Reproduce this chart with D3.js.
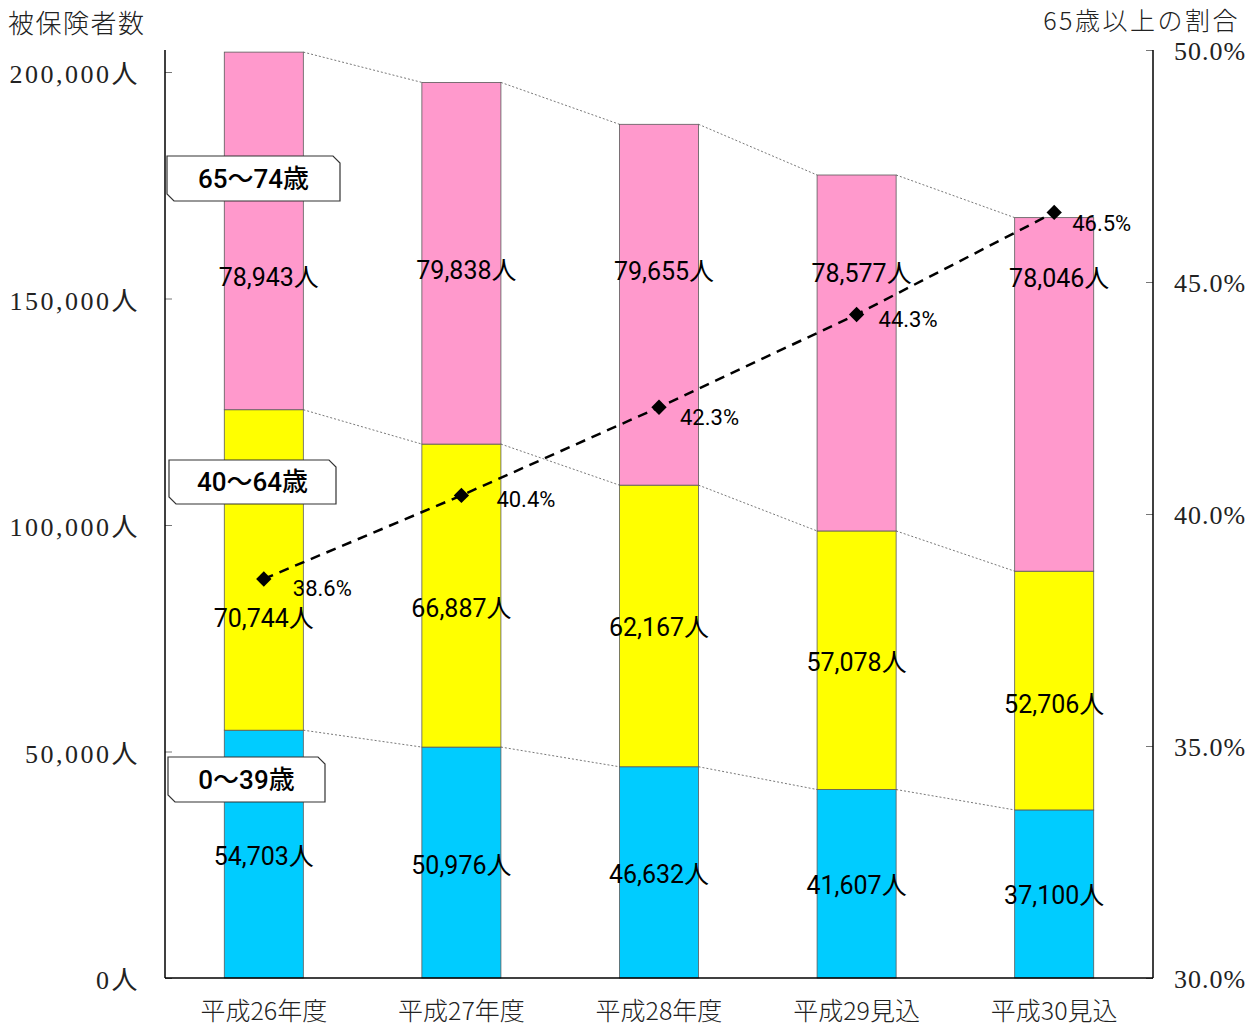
<!DOCTYPE html>
<html><head><meta charset="utf-8">
<script src="https://cdn.jsdelivr.net/npm/d3@7"></script>
<style>
body{margin:0;background:#fff;}
svg{display:block;}
</style></head>
<body>
<svg id="c" width="1257" height="1027"></svg>
<script>
// ---- data ----
const categories = ["平成26年度","平成27年度","平成28年度","平成29見込","平成30見込"];
const age0to39   = [54703, 50976, 46632, 41607, 37100];
const age40to64  = [70744, 66887, 62167, 57078, 52706];
const age65to74  = [78943, 79838, 79655, 78577, 78046];
const share65    = [38.6, 40.4, 42.3, 44.3, 46.5];
const seriesNames = ["0～39歳","40～64歳","65～74歳"];
const leftTicks  = [0, 50000, 100000, 150000, 200000];
const rightTicks = [30, 35, 40, 45, 50];
const leftTitle = "被保険者数";
const rightTitle = "65歳以上の割合";

// ---- layout ----
const L = 165, R = 1153, T = 50, B = 978;
const colors = ["#00CCFF","#FFFF00","#FF99CC"];
const svg = d3.select("#c");
const x = d3.scaleBand().domain(categories).range([L, R]).paddingInner(0.6).paddingOuter(0.3);
const y = d3.scaleLinear().domain([0, 200000]).range([B, 72]);
const y2 = d3.scaleLinear().domain([30, 50]).range([B, T]);
const serif = "'Liberation Serif','Noto Sans CJK JP',serif";
const sans = "Roboto,'Noto Sans CJK JP',sans-serif";

const rows = categories.map((c,i)=>({cat:c, a:age0to39[i], b:age40to64[i], c:age65to74[i]}));
const stack = d3.stack().keys(["a","b","c"])(rows);

// bars
stack.forEach((s,k)=>{
  svg.append("g").selectAll("rect").data(s).join("rect")
    .attr("x", (d,i)=>x(categories[i]))
    .attr("width", x.bandwidth())
    .attr("y", d=>y(d[1]))
    .attr("height", d=>y(d[0])-y(d[1]))
    .attr("fill", colors[k])
    .attr("stroke", "#5a5a5a").attr("stroke-width", 0.8);
});

// series connector lines
stack.forEach(s=>{
  for(let i=0;i<s.length-1;i++){
    svg.append("line")
      .attr("x1", x(categories[i])+x.bandwidth()).attr("y1", y(s[i][1]))
      .attr("x2", x(categories[i+1])).attr("y2", y(s[i+1][1]))
      .attr("stroke","#555").attr("stroke-width",0.8).attr("stroke-dasharray","2,2");
  }
});

// axes
const axL = svg.append("g").attr("transform",`translate(${L},0)`)
  .call(d3.axisLeft(y).tickValues(leftTicks).tickSize(-7).tickFormat(""));
axL.select(".domain").remove();
axL.selectAll(".tick line").attr("stroke","#777");
const axR = svg.append("g").attr("transform",`translate(${R},0)`)
  .call(d3.axisRight(y2).tickValues(rightTicks).tickSize(-7).tickFormat(""));
axR.select(".domain").remove();
axR.selectAll(".tick line").attr("stroke","#777");
svg.append("line").attr("x1",L).attr("x2",L).attr("y1",T).attr("y2",B).attr("stroke","#000").attr("stroke-width",1.5);
svg.append("line").attr("x1",R).attr("x2",R).attr("y1",T).attr("y2",B).attr("stroke","#000").attr("stroke-width",1.5);
svg.append("line").attr("x1",L).attr("x2",R).attr("y1",B).attr("y2",B).attr("stroke","#000").attr("stroke-width",1.5);

const fmtL = d3.format(",");
svg.append("g").selectAll("text").data(leftTicks).join("text")
  .attr("x", 140).attr("y", d=>y(d)+2).attr("dy","0.36em")
  .attr("text-anchor","end").attr("font-family",serif).attr("font-size",26)
  .attr("letter-spacing",2.5).attr("fill","#222")
  .text(d=>fmtL(d)+"人");
svg.append("g").selectAll("text").data(rightTicks).join("text")
  .attr("x", 1174).attr("y", d=>y2(d)+1).attr("dy","0.36em")
  .attr("text-anchor","start").attr("font-family",serif).attr("font-size",26)
  .attr("letter-spacing",1).attr("fill","#222")
  .text(d=>d.toFixed(1)+"%");
svg.append("g").selectAll("text").data(categories).join("text")
  .attr("x", d=>x(d)+x.bandwidth()/2).attr("y", 1011).attr("dy","0.36em")
  .attr("text-anchor","middle").attr("font-family","'Noto Sans CJK JP',sans-serif").attr("font-size",25)
  .attr("font-weight",300).attr("fill","#222")
  .text(d=>d);
svg.append("text").attr("x",8).attr("y",24).attr("dy","0.36em")
  .attr("font-family","'Noto Sans CJK JP',sans-serif").attr("font-size",26).attr("letter-spacing",1.5)
  .attr("font-weight",300).attr("fill","#222").text(leftTitle);
svg.append("text").attr("x",1240).attr("y",20.5).attr("dy","0.36em").attr("text-anchor","end")
  .attr("font-family","'Noto Sans CJK JP',sans-serif").attr("font-size",25).attr("letter-spacing",2.5)
  .attr("font-weight",300).attr("fill","#222").text(rightTitle);

// segment value labels (nudges are layout only)
const labelNudge = [
  [2, 2, 2, 1, 1],
  [48, 12, 1, 2, 13],
  [46, 7, -34, -80, -116]
];
stack.forEach((s,k)=>{
  svg.append("g").selectAll("text").data(s).join("text")
    .attr("x",(d,i)=>x(categories[i])+x.bandwidth()/2 + (k===2?5:0))
    .attr("y",(d,i)=>(y(d[0])+y(d[1]))/2 + labelNudge[k][i])
    .attr("dy","0.36em").attr("text-anchor","middle")
    .attr("font-family",sans).attr("font-size",25).attr("fill","#000")
    .text(d=>fmtL(d[1]-d[0])+"人");
});

// share line
const line = d3.line().x((d,i)=>x(categories[i])+x.bandwidth()/2).y(d=>y2(d));
svg.append("path").datum(share65).attr("d",line).attr("fill","none")
  .attr("stroke","#000").attr("stroke-width",2.5).attr("stroke-dasharray","10,7");
svg.append("g").selectAll("path").data(share65).join("path")
  .attr("d", d3.symbol().type(d3.symbolDiamond2).size(150))
  .attr("transform",(d,i)=>`translate(${x(categories[i])+x.bandwidth()/2},${y2(d)})`)
  .attr("fill","#000");
const pctDx = [29, 35, 21, 22, 18];
const pctDy = [9, 4, 10, 5, 11];
svg.append("g").selectAll("text").data(share65).join("text")
  .attr("x",(d,i)=>x(categories[i])+x.bandwidth()/2+pctDx[i])
  .attr("y",(d,i)=>y2(d)+pctDy[i]).attr("dy","0.36em")
  .attr("font-family",sans).attr("font-size",22).attr("fill","#000")
  .text(d=>d.toFixed(1)+"%");

// callout legend boxes
const callouts = [
  {name:seriesNames[2], x0:167, x1:340, y0:156, y1:201},
  {name:seriesNames[1], x0:169, x1:336, y0:460, y1:504},
  {name:seriesNames[0], x0:168, x1:325, y0:757, y1:802}
];
const c = 7;
callouts.forEach(o=>{
  const p = `M${o.x0},${o.y0} L${o.x1-c},${o.y0} L${o.x1},${o.y0+c} L${o.x1},${o.y1} L${o.x0+c},${o.y1} L${o.x0},${o.y1-c} Z`;
  svg.append("path").attr("d",p).attr("fill","#fff").attr("stroke","#333").attr("stroke-width",1.2);
  svg.append("text").attr("x",(o.x0+o.x1)/2).attr("y",(o.y0+o.y1)/2).attr("dy","0.36em")
    .attr("text-anchor","middle").attr("font-family",sans).attr("font-size",26).attr("font-weight",500)
    .attr("fill","#000").text(o.name);
});
</script>
</body></html>
